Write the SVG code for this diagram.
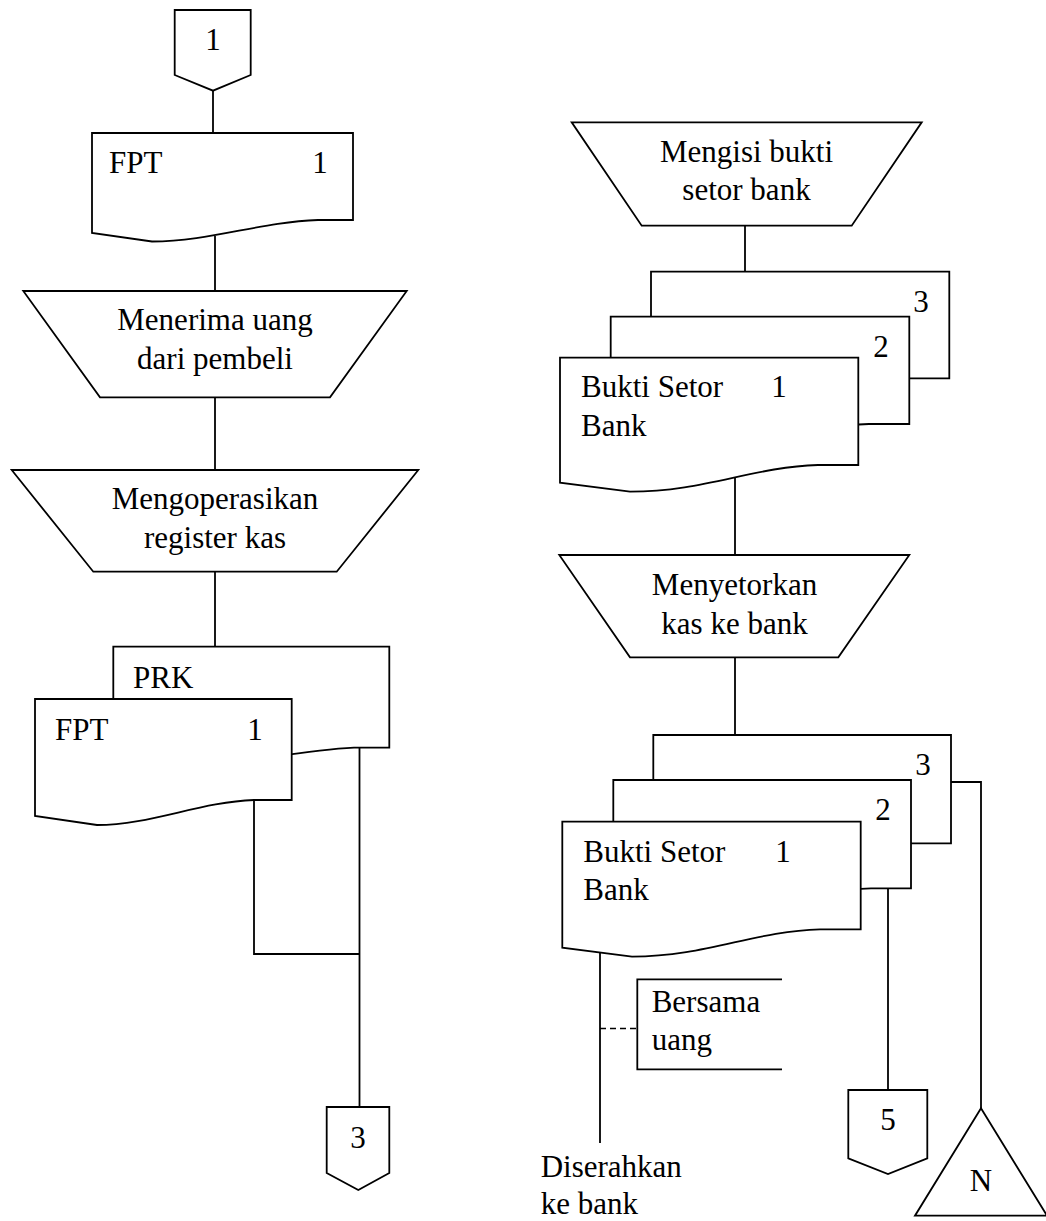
<svg xmlns="http://www.w3.org/2000/svg" width="1046" height="1221" viewBox="0 0 1046 1221" font-family="'Liberation Serif', 'DejaVu Serif', serif" font-size="31">
<style>
.s{fill:#fff;stroke:#000;stroke-width:1.8;stroke-linejoin:miter}
.l{fill:none;stroke:#000;stroke-width:1.8}
.d{fill:none;stroke:#000;stroke-width:1.6;stroke-dasharray:6,4}
.t{font-family:'Liberation Serif','DejaVu Serif',serif;font-size:31px;fill:#000}
.c{text-anchor:middle}
</style>
<rect width="1046" height="1221" fill="#fff"/>
<g id="connectors">
<line class="l" x1="213" y1="90" x2="213" y2="134"/>
<line class="l" x1="215" y1="236" x2="215" y2="292"/>
<line class="l" x1="215" y1="397" x2="215" y2="471"/>
<line class="l" x1="215" y1="572" x2="215" y2="648"/>
<polyline class="l" points="254,800 254,954 360,954"/>
<line class="l" x1="359.5" y1="748" x2="359.5" y2="1108"/>
<line class="l" x1="745" y1="226" x2="745" y2="273"/>
<line class="l" x1="735" y1="478" x2="735" y2="556"/>
<line class="l" x1="735" y1="657" x2="735" y2="736"/>
<polyline class="l" points="951,782 981,782 981,1109"/>
<line class="l" x1="888" y1="888" x2="888" y2="1091"/>
<line class="l" x1="600" y1="952" x2="600" y2="1143"/>
<line class="d" x1="600" y1="1028.5" x2="637" y2="1028.5"/>
</g>
<g id="conn1">
<polygon class="s" points="174.7,10 250.7,10 250.7,75 213,90.7 174.7,75"/>
<text class="t c" x="213" y="50">1</text>
</g>
<g id="doc-fpt">
<path class="s" d="M92,133 H353 V220 H318 C260,222 210,241.5 152,241.5 L92,233 Z"/>
<text class="t" x="109" y="173">FPT</text>
<text class="t c" x="320" y="173">1</text>
</g>
<g id="proc-menerima">
<polygon class="s" points="23.3,291 406.7,291 330,397.3 100,397.3"/>
<text class="t c" x="215" y="330">Menerima uang</text>
<text class="t c" x="215" y="369">dari pembeli</text>
</g>
<g id="proc-mengoperasikan">
<polygon class="s" points="11.7,470 418.3,470 336.7,571.7 93.3,571.7"/>
<text class="t c" x="215" y="509">Mengoperasikan</text>
<text class="t c" x="215" y="548">register kas</text>
</g>
<g id="doc-prk">
<path class="s" d="M113.3,646.7 H389.3 V747.7 H354 C291,751 238,766 177,766 L113.3,764 Z"/>
<text class="t" x="133" y="688">PRK</text>
</g>
<g id="doc-fpt2">
<path class="s" d="M35,699 H291.7 V800 H254 C200,802 150,825 97,825 L35,816 Z"/>
<text class="t" x="55" y="740">FPT</text>
<text class="t c" x="255" y="740">1</text>
</g>
<g id="conn3">
<polygon class="s" points="326.7,1107 389.3,1107 389.3,1173 358.3,1190 326.7,1173"/>
<text class="t c" x="358" y="1148">3</text>
</g>
<g id="proc-mengisi">
<polygon class="s" points="571.7,122.3 921.7,122.3 851.7,225.7 641.7,225.7"/>
<text class="t c" x="746.5" y="161.7">Mengisi bukti</text>
<text class="t c" x="746.5" y="200">setor bank</text>
</g>
<g id="doc-bsb-a3">
<path class="s" d="M651,271.7 H949.3 V378.3 H910 C845,380 797,405 721,405 L651,396 Z"/>
<text class="t c" x="921" y="311.7">3</text>
</g>
<g id="doc-bsb-a2">
<path class="s" d="M610.7,316.7 H909.3 V424 H869 C804,426 756,451 681,451 L610.7,442 Z"/>
<text class="t c" x="881" y="356.7">2</text>
</g>
<g id="doc-bsb-a1">
<path class="s" d="M560,357.7 H858.3 V465 H818 C752,467 704,491.7 630,491.7 L560,482.7 Z"/>
<text class="t" x="581" y="397">Bukti Setor</text>
<text class="t" x="581" y="435.7">Bank</text>
<text class="t c" x="779" y="397">1</text>
</g>
<g id="proc-menyetorkan">
<polygon class="s" points="559.3,555 909.3,555 838.3,657.3 630,657.3"/>
<text class="t c" x="734.5" y="595">Menyetorkan</text>
<text class="t c" x="734.5" y="634.3">kas ke bank</text>
</g>
<g id="doc-bsb-b3">
<path class="s" d="M653.3,735 H951 V843.3 H912 C846,845 798,870 723,870 L653.3,861 Z"/>
<text class="t c" x="923" y="775">3</text>
</g>
<g id="doc-bsb-b2">
<path class="s" d="M613.3,780 H911 V888.3 H871 C806,890 758,915 683,915 L613.3,906 Z"/>
<text class="t c" x="883" y="820">2</text>
</g>
<g id="doc-bsb-b1">
<path class="s" d="M562.3,821.7 H860.7 V929.3 H820 C754,931 706,956.7 632,956.7 L562.3,947.7 Z"/>
<text class="t" x="583.3" y="861.7">Bukti Setor</text>
<text class="t" x="583.3" y="900">Bank</text>
<text class="t c" x="783" y="861.7">1</text>
</g>
<g id="note-bersama">
<polyline class="l" points="782,979.3 637.3,979.3 637.3,1069.3 782,1069.3"/>
<text class="t" x="651.7" y="1011.7">Bersama</text>
<text class="t" x="651.7" y="1050">uang</text>
</g>
<g id="label-diserahkan">
<text class="t" x="540.7" y="1176.7">Diserahkan</text>
<text class="t" x="540.7" y="1214">ke bank</text>
</g>
<g id="conn5">
<polygon class="s" points="848.3,1090 927.3,1090 927.3,1158.3 888,1174 848.3,1158.3"/>
<text class="t c" x="888" y="1130">5</text>
</g>
<g id="file-n">
<polygon class="s" points="981,1108.3 1047,1215.7 915,1215.7"/>
<text class="t c" x="981" y="1190.7">N</text>
</g>
</svg>
